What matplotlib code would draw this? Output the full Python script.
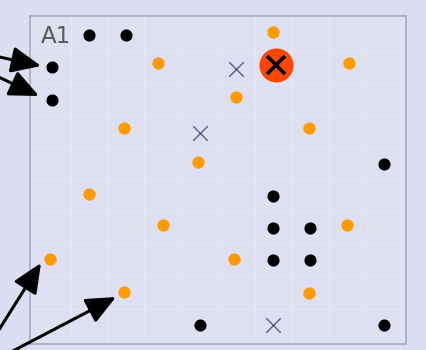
import matplotlib
matplotlib.use("Agg")
import matplotlib.pyplot as plt
from matplotlib.patches import FancyArrowPatch
from matplotlib.transforms import IdentityTransform

# Board data (column, row) with row 0 at top
black_x = [1, 2, 0, 0, 9, 6, 6, 7, 6, 7, 4, 9]
black_y = [0, 0, 1, 2, 4, 5, 6, 6, 7, 7, 9, 9]

orange_x = [6, 2.87, 8.05, 4.98, 1.96, 6.98, 3.97, 1.0, 3.0, 8.0, -0.07, 4.94, 1.95, 6.96]
orange_y = [-0.09, 0.87, 0.87, 1.92, 2.88, 2.88, 3.93, 4.94, 5.9, 5.9, 6.97, 6.97, 7.99, 8.0]

cross_x = [5, 4, 6]
cross_y = [1.04, 3.03, 9]

target_x = [6.06]
target_y = [0.93]

label_text = "A1"

bg = "#dcdff1"
fig = plt.figure(figsize=(4.26, 3.5), dpi=100, facecolor=bg)
ax = fig.add_axes([30/426, 1 - 344/350, 376/426, (344-16)/350])
ax.set_facecolor("#dee0f2")
ax.set_xlim(-0.6, 9.6)
ax.set_ylim(9.6, -0.6)
for s in ax.spines.values():
    s.set_color("#a9abbe")
    s.set_linewidth(1.2)
ax.set_xticks([])
ax.set_yticks([])

for k in range(10):
    ax.axvline(k + 0.5, color="#e4e6f5", lw=1.0, zorder=0)
    ax.axhline(k + 0.5, color="#e4e6f5", lw=1.0, zorder=0)

ax.scatter(black_x, black_y, s=76, color="black", zorder=3, linewidths=0)
ax.scatter(orange_x, orange_y, s=78, color="#ff9a00", zorder=3, linewidths=0)
ax.scatter(cross_x, cross_y, s=110, marker="x", color="#5a5c94", linewidths=1.0, zorder=3)
ax.plot(target_x, target_y, "o", ms=24.5, color="#ff4500", mec="none", zorder=4)
ax.plot(target_x, target_y, "x", ms=13, color="black", mew=2.6, zorder=5)

ax.text(-0.32, 0.25, label_text, fontsize=16.5, color="#5a5a5a", ha="left", va="baseline",
        transform=ax.transData)

arrows = [((41, 66), (-10, 55)), ((39, 96), (-10, 73)),
          ((41, 263), (-15, 352)), ((116, 297), (-10, 363))]
for tip, start in arrows:
    fig.add_artist(FancyArrowPatch(
        (start[0], 350 - start[1]), (tip[0], 350 - tip[1]),
        transform=IdentityTransform(),
        arrowstyle="-|>,head_length=18,head_width=8",
        color="black", lw=2.2, shrinkA=0, shrinkB=0, mutation_scale=1))

fig.savefig("out.png", dpi=100, facecolor=bg)
